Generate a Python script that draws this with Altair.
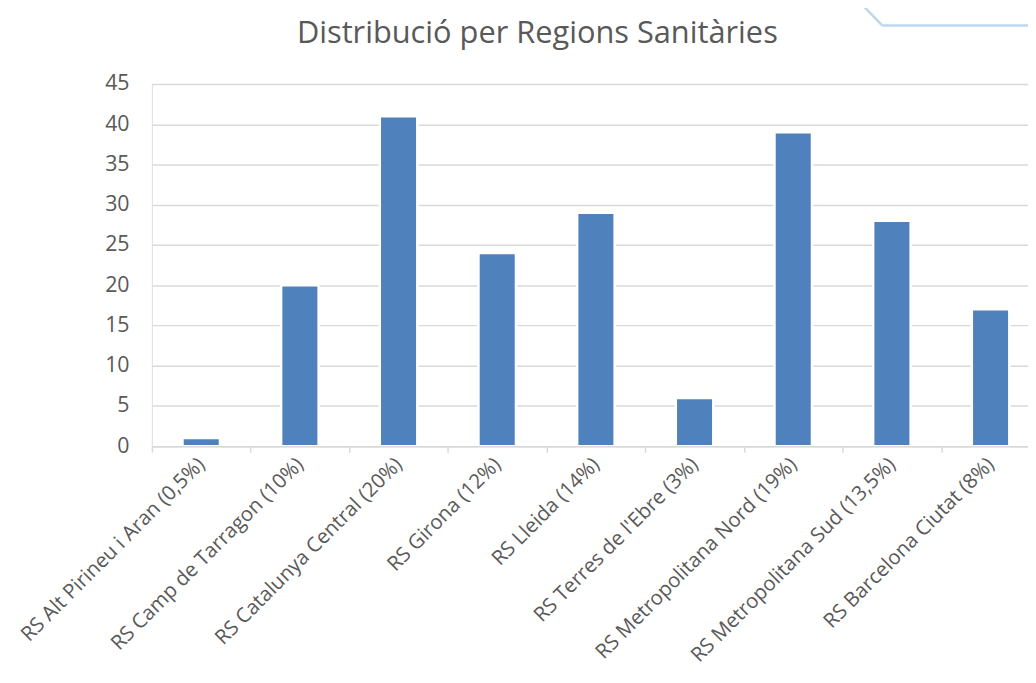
import altair as alt
import pandas as pd

categories = [
    "RS Alt Pirineu i Aran (0,5%)",
    "RS Camp de Tarragon (10%)",
    "RS Catalunya Central (20%)",
    "RS Girona (12%)",
    "RS Lleida (14%)",
    "RS Terres de l'Ebre (3%)",
    "RS Metropolitana Nord (19%)",
    "RS Metropolitana Sud (13,5%)",
    "RS Barcelona Ciutat (8%)",
]
values = [1, 20, 41, 24, 29, 6, 39, 28, 17]
y_ticks = [0, 5, 10, 15, 20, 25, 30, 35, 40, 45]
title_text = "Distribució per Regions Sanitàries"

df = pd.DataFrame({"region": categories, "value": values})

FONT = "Open Sans"
TEXT = "#595959"
GRID = "#d9d9d9"
BAR = "#4f81bd"

bars = alt.Chart(df).mark_bar(
    color=BAR, stroke="white", strokeWidth=2.5, width=alt.RelativeBandSize(0.38)
).encode(
    x=alt.X(
        "region:N",
        sort=categories,
        scale=alt.Scale(paddingInner=0, paddingOuter=0),
        axis=alt.Axis(
            title=None, labelAngle=-45, labelAlign="right", labelBaseline="middle",
            labelFontSize=20.5, labelFont=FONT, labelColor=TEXT, labelPadding=9,
            domainColor=GRID, domainWidth=1.5, tickColor=GRID, tickWidth=1.5, tickSize=6,
            tickBand="extent", zindex=1, grid=False, labelOverlap=False, labelLimit=0,
        ),
    ),
    y=alt.Y(
        "value:Q",
        scale=alt.Scale(domain=[0, 45], nice=False),
        axis=alt.Axis(
            title=None, values=y_ticks, ticks=False, domain=False, gridColor=GRID,
            gridWidth=1.5, labelFontSize=21.5, labelFont=FONT, labelColor=TEXT, labelPadding=23,
        ),
    ),
)

deco_df = pd.DataFrame({"d": [0]})
deco_color = "#bdd7ee"
deco1 = alt.Chart(deco_df).mark_rule(color=deco_color, strokeWidth=2.5).encode(
    x=alt.value(712), y=alt.value(-84), x2=alt.value(736), y2=alt.value(-59)
)
deco2 = alt.Chart(deco_df).mark_rule(color=deco_color, strokeWidth=2.5).encode(
    x=alt.value(736), y=alt.value(-59), x2=alt.value(900), y2=alt.value(-59)
)

chart = alt.layer(bars, deco1, deco2).properties(
    width=895,
    height=365,
    autosize=alt.AutoSizeParams(type="none"),
    padding={"left": 145, "top": 74, "right": -12, "bottom": 228},
    title=alt.Title(
        title_text, font=FONT, fontSize=31, fontWeight="normal", color=TEXT,
        anchor="middle", dx=-59, offset=0, dy=74.5, baseline="alphabetic",
    ),
).configure_view(stroke=None).configure(background="white")

chart.save("out.html", embed_options={"renderer": "svg", "actions": False})
